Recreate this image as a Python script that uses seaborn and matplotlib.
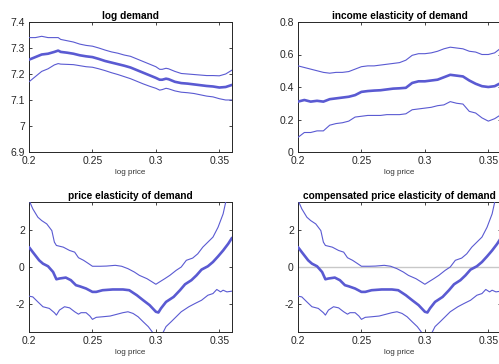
import matplotlib
matplotlib.use("Agg")
import matplotlib.pyplot as plt
import seaborn as sns
import pandas as pd

# ---------------- data ----------------
x_ld = [0.2, 0.205, 0.21, 0.215, 0.22, 0.223, 0.225, 0.23, 0.235, 0.24, 0.245, 0.25, 0.255,
        0.26, 0.265, 0.27, 0.275, 0.28, 0.285, 0.29, 0.295, 0.30, 0.303, 0.305, 0.308, 0.31,
        0.315, 0.32, 0.325, 0.33, 0.335, 0.34, 0.345, 0.35, 0.355, 0.36]
ld_mid = [7.255, 7.265, 7.275, 7.278, 7.285, 7.29, 7.285, 7.282, 7.278, 7.272, 7.268, 7.265,
          7.258, 7.25, 7.244, 7.238, 7.232, 7.225, 7.215, 7.205, 7.195, 7.185, 7.178, 7.178,
          7.182, 7.18, 7.17, 7.165, 7.163, 7.16, 7.157, 7.154, 7.152, 7.148, 7.15, 7.158]
ld_up = [7.34, 7.34, 7.345, 7.34, 7.34, 7.34, 7.333, 7.328, 7.323, 7.315, 7.31, 7.307, 7.3,
         7.292, 7.285, 7.28, 7.273, 7.268, 7.258, 7.248, 7.238, 7.228, 7.218, 7.218, 7.222,
         7.22, 7.21, 7.202, 7.2, 7.198, 7.196, 7.194, 7.194, 7.193, 7.2, 7.215]
ld_lo = [7.17, 7.19, 7.21, 7.22, 7.235, 7.24, 7.238, 7.237, 7.236, 7.232, 7.228, 7.226, 7.22,
         7.213, 7.205, 7.198, 7.19, 7.182, 7.172, 7.162, 7.153, 7.145, 7.138, 7.14, 7.145,
         7.143, 7.135, 7.13, 7.128, 7.125, 7.12, 7.115, 7.112, 7.105, 7.1, 7.1]

x_ie = [0.2, 0.205, 0.21, 0.215, 0.22, 0.225, 0.23, 0.235, 0.24, 0.245, 0.25, 0.255, 0.26,
        0.265, 0.27, 0.275, 0.28, 0.285, 0.29, 0.295, 0.30, 0.305, 0.31, 0.315, 0.32, 0.325,
        0.33, 0.335, 0.34, 0.345, 0.35, 0.355, 0.36]
ie_mid = [0.31, 0.32, 0.31, 0.315, 0.31, 0.325, 0.33, 0.335, 0.34, 0.35, 0.37, 0.375, 0.378,
          0.38, 0.385, 0.39, 0.392, 0.395, 0.425, 0.435, 0.435, 0.44, 0.445, 0.46, 0.475, 0.47,
          0.465, 0.44, 0.42, 0.405, 0.40, 0.405, 0.425]
ie_up = [0.53, 0.52, 0.51, 0.50, 0.49, 0.485, 0.49, 0.49, 0.495, 0.51, 0.525, 0.53, 0.53,
         0.535, 0.54, 0.545, 0.55, 0.565, 0.595, 0.605, 0.605, 0.61, 0.62, 0.635, 0.645, 0.64,
         0.635, 0.62, 0.615, 0.60, 0.60, 0.61, 0.64]
ie_lo = [0.09, 0.12, 0.12, 0.13, 0.13, 0.165, 0.175, 0.18, 0.19, 0.215, 0.22, 0.225, 0.225,
         0.225, 0.23, 0.23, 0.23, 0.235, 0.26, 0.265, 0.27, 0.275, 0.285, 0.29, 0.31, 0.30,
         0.295, 0.25, 0.24, 0.21, 0.19, 0.205, 0.23]

x_pm = [0.2, 0.203, 0.208, 0.211, 0.215, 0.219, 0.2216, 0.224, 0.229, 0.233, 0.237, 0.24,
        0.245, 0.25, 0.253, 0.258, 0.266, 0.274, 0.279, 0.285, 0.29, 0.295, 0.3, 0.302, 0.304,
        0.308, 0.314, 0.319, 0.323, 0.328, 0.332, 0.336, 0.341, 0.345, 0.349, 0.353, 0.357, 0.36]
pe_mid = [1.07, 0.8, 0.36, 0.18, 0.04, -0.27, -0.66, -0.62, -0.57, -0.71, -0.98, -1.04, -1.16,
          -1.34, -1.34, -1.25, -1.21, -1.21, -1.25, -1.52, -1.79, -2.05, -2.41, -2.45, -2.23,
          -1.88, -1.61, -1.25, -0.93, -0.71, -0.45, -0.14, 0.04, 0.27, 0.57, 0.89, 1.25, 1.57]

x_pu = [0.198, 0.2, 0.203, 0.207, 0.21, 0.214, 0.218, 0.22, 0.2216, 0.227, 0.232, 0.236,
        0.239, 0.243, 0.247, 0.25, 0.256, 0.261, 0.268, 0.273, 0.278, 0.283, 0.287, 0.293,
        0.297, 0.3, 0.303, 0.307, 0.311, 0.316, 0.32, 0.324, 0.329, 0.333, 0.337, 0.341,
        0.345, 0.349, 0.353, 0.355, 0.357]
pe_up = [3.9, 3.6, 3.13, 2.68, 2.5, 2.32, 1.96, 1.34, 1.16, 1.07, 0.89, 0.8, 0.5, 0.36, 0.18,
         0.04, 0.04, 0.05, 0.09, 0.04, -0.09, -0.27, -0.45, -0.63, -0.8, -0.93, -0.8, -0.63,
         -0.45, -0.18, 0.0, 0.36, 0.48, 0.71, 1.07, 1.34, 1.61, 2.14, 2.86, 3.48, 4.0]

x_pl = [0.2, 0.203, 0.207, 0.211, 0.216, 0.22, 0.2216, 0.224, 0.228, 0.232, 0.236, 0.239,
        0.241, 0.245, 0.248, 0.25, 0.253, 0.258, 0.264, 0.269, 0.274, 0.278, 0.282, 0.286,
        0.29, 0.294, 0.297, 0.3015, 0.306, 0.308, 0.312, 0.316, 0.32, 0.326, 0.331, 0.336,
        0.341, 0.345, 0.348, 0.351, 0.353, 0.356, 0.36]
pe_lo = [-1.57, -1.61, -1.88, -2.14, -2.23, -2.46, -2.59, -2.32, -2.14, -2.2, -2.41, -2.54,
         -2.46, -2.46, -2.64, -2.82, -2.71, -2.68, -2.64, -2.55, -2.46, -2.41, -2.5, -2.68,
         -2.95, -3.21, -3.48, -4.0, -3.48, -3.21, -2.95, -2.68, -2.41, -2.14, -1.96, -1.79,
         -1.52, -1.43, -1.21, -1.34, -1.25, -1.34, -1.3]

# compensated price elasticity (visually identical to uncompensated)
ce_mid = list(pe_mid)
ce_up = list(pe_up)
ce_lo = list(pe_lo)

titles = ["log demand", "income elasticity of demand",
          "price elasticity of demand", "compensated price elasticity of demand"]
xticks = [0.2, 0.25, 0.3, 0.35]
xticklabels = ["0.2", "0.25", "0.3", "0.35"]

# ---------------- style ----------------
sns.set_theme(style="white")
plt.rcParams["font.family"] = ["Liberation Sans", "DejaVu Sans"]

col = "#5a5ad2"
W, H = 499, 364
fig = plt.figure(figsize=(W / 100, H / 100), dpi=100)

def pos(l, t, r, b):
    return [l / W, 1 - b / H, (r - l) / W, (b - t) / H]

axes = [fig.add_axes(pos(29, 22, 232, 152)),
        fig.add_axes(pos(298, 22, 501, 152)),
        fig.add_axes(pos(29, 202, 232, 332)),
        fig.add_axes(pos(298, 202, 501, 332))]

panels = [
    [(x_ld, ld_up), (x_ld, ld_mid), (x_ld, ld_lo)],
    [(x_ie, ie_up), (x_ie, ie_mid), (x_ie, ie_lo)],
    [(x_pu, pe_up), (x_pm, pe_mid), (x_pl, pe_lo)],
    [(x_pu, ce_up), (x_pm, ce_mid), (x_pl, ce_lo)],
]
ylims = [(6.9, 7.4), (0, 0.8), (-3.5, 3.5), (-3.5, 3.5)]
yticks = [[6.9, 7.0, 7.1, 7.2, 7.3, 7.4], [0, 0.2, 0.4, 0.6, 0.8], [-2, 0, 2], [-2, 0, 2]]
yticklabels = [["6.9", "7", "7.1", "7.2", "7.3", "7.4"], ["0", "0.2", "0.4", "0.6", "0.8"],
               ["-2", "0", "2"], ["-2", "0", "2"]]

for i, ax in enumerate(axes):
    if i == 3:
        ax.axhline(0, color="#c8c8c8", lw=1.0, zorder=1)
    for j, (xs, ys) in enumerate(panels[i]):
        df = pd.DataFrame({"x": xs, "y": ys})
        sns.lineplot(data=df, x="x", y="y", ax=ax, color=col,
                     lw=1.9 if j == 1 else 0.8, sort=False, estimator=None, zorder=3)
    ax.set_xlim(0.2, 0.36)
    ax.set_ylim(*ylims[i])
    ax.set_xticks(xticks)
    ax.set_xticklabels(xticklabels)
    ax.set_yticks(yticks[i])
    ax.set_yticklabels(yticklabels[i])
    ax.set_xlabel("log price", fontsize=5.8, color="#333333", labelpad=2)
    ax.set_ylabel("")
    ax.set_title(titles[i], fontsize=7.3, fontweight="bold", color="black", pad=2.5)
    ax.tick_params(direction="in", length=2.5, width=0.6, top=True, right=True,
                   bottom=True, left=True, labelsize=7.5, colors="#262626", pad=3)
    for s in ax.spines.values():
        s.set_visible(True)
        s.set_color("#262626")
        s.set_linewidth(0.7)

fig.savefig("out.png", dpi=100)
